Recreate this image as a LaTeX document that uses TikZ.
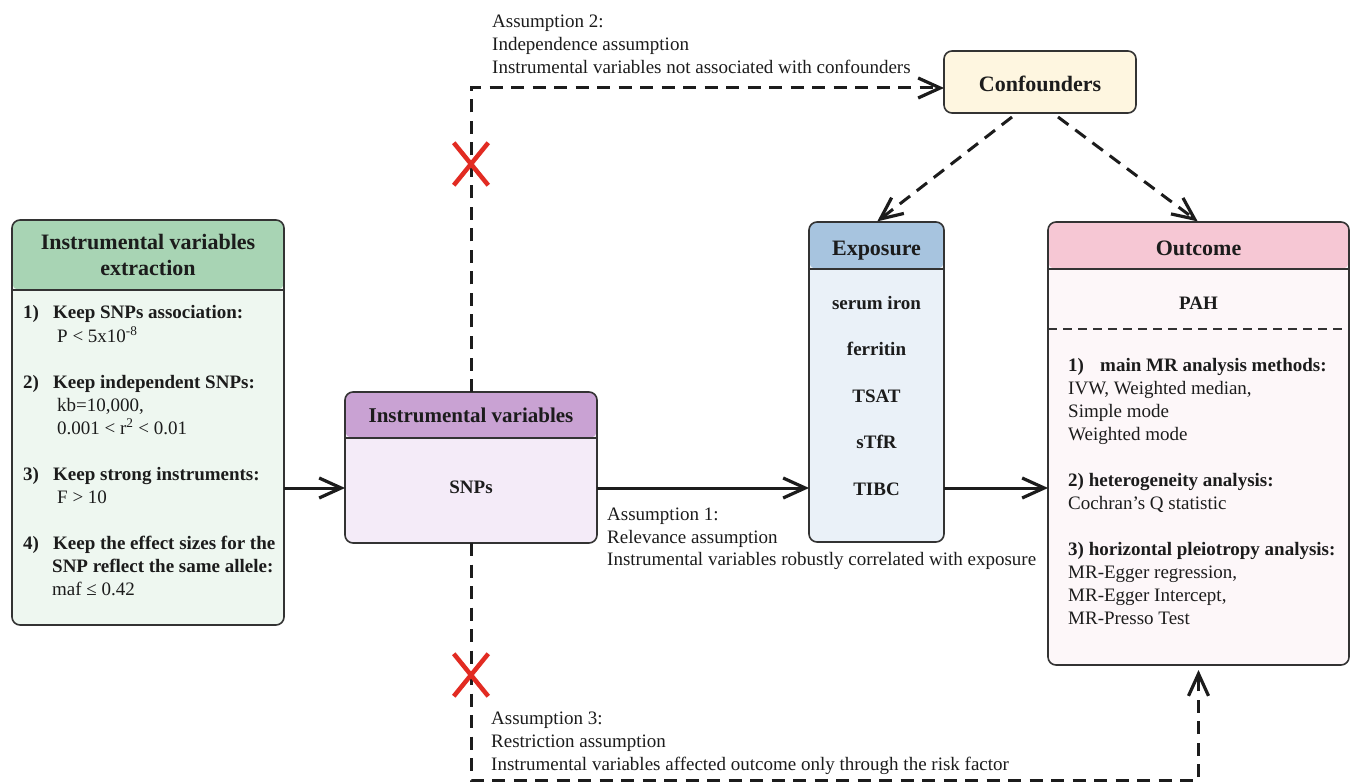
\documentclass[tikz,border=0pt]{standalone}
\usepackage{fontspec}
\setmainfont{Liberation Serif}
\usetikzlibrary{arrows.meta,shapes.misc}
\definecolor{bord}{HTML}{333333}
\definecolor{grH}{HTML}{A8D4B4}
\definecolor{grB}{HTML}{EEF7F0}
\definecolor{puH}{HTML}{C9A2D3}
\definecolor{puB}{HTML}{F4EBF8}
\definecolor{blH}{HTML}{A7C4DF}
\definecolor{blB}{HTML}{EAF1F8}
\definecolor{piH}{HTML}{F6C7D4}
\definecolor{piB}{HTML}{FDF7F9}
\definecolor{coB}{HTML}{FEF6E0}
\definecolor{xred}{HTML}{E22B22}
\definecolor{txt}{HTML}{1C1C1C}
\tikzset{
  box/.style={draw=bord, line width=1.6pt, rounded corners=8pt, inner sep=0pt, outer sep=0pt},
  hbox/.style n args={3}{box, fill=#2, path picture={\fill[#1] (path picture bounding box.north west) rectangle ([yshift=-#3]path picture bounding box.north east);}},
  divider/.style={draw=bord, line width=1.6pt},
  arr/.style={draw=txt, line width=3pt, -{Straight Barb[length=22pt,width=20pt,line width=3.2pt]}},
  dsh/.style={arr, dash pattern=on 13pt off 8.5pt},
  hd/.style={font=\fontsize{22}{26}\selectfont\bfseries, text=txt, align=center, inner sep=0pt},
  bt/.style={font=\fontsize{19}{23}\selectfont\bfseries, text=txt, inner sep=0pt, anchor=base west},
  rt/.style={font=\fontsize{19}{23}\selectfont, text=txt, inner sep=0pt, anchor=base west},
  bc/.style={font=\fontsize{19}{23}\selectfont\bfseries, text=txt, inner sep=0pt, anchor=base},
  xmark/.style={cross out, draw=xred, line width=4.5pt, minimum width=30pt, minimum height=38pt, inner sep=0pt}
}
\begin{document}
\begin{tikzpicture}[x=1pt,y=-1pt]
\useasboundingbox[fill=white] (0,0) rectangle (1351,783);

% boxes
\node[hbox={grH}{grB}{70pt}, minimum width=272pt, minimum height=405pt] (ext) at (148,422.5) {};
\draw[divider] ([yshift=-70pt]ext.north west) -- ([yshift=-70pt]ext.north east);
\node[hbox={puH}{puB}{46pt}, minimum width=252pt, minimum height=151pt] (iv) at (471,467.5) {};
\draw[divider] ([yshift=-46pt]iv.north west) -- ([yshift=-46pt]iv.north east);
\node[hbox={blH}{blB}{47pt}, minimum width=135pt, minimum height=320pt] (exp) at (876.5,382) {};
\draw[divider] ([yshift=-47pt]exp.north west) -- ([yshift=-47pt]exp.north east);
\node[hbox={piH}{piB}{47pt}, minimum width=301pt, minimum height=443pt] (out) at (1198.5,443.5) {};
\draw[divider] ([yshift=-47pt]out.north west) -- ([yshift=-47pt]out.north east);
\draw[draw=bord, line width=1.2pt, dash pattern=on 9pt off 6pt] ([yshift=-107pt]out.north west) -- ([yshift=-107pt]out.north east);
\node[box, fill=coB, minimum width=192pt, minimum height=62pt] (conf) at (1040,82) {};

% headers
\node[hd] (exth) at (148,255) {Instrumental variables\\extraction};
\node[hd, font=\fontsize{21}{24}\selectfont\bfseries, anchor=base] (ivh) at (471,422) {Instrumental variables};
\node[hd, anchor=base] (exph) at (876.5,256) {Exposure};
\node[hd, anchor=base] (outh) at (1198.5,256) {Outcome};
\node[hd, anchor=base] (confh) at (1040,92) {Confounders};

% left box text
\node[bt] (n1) at (23,319) {1)};
\node[bt] (t1) at (53,319) {Keep SNPs association:};
\node[rt] (t1a) at (57,342) {P < 5x10\textsuperscript{-8}};
\node[bt] (n2) at (23,388) {2)};
\node[bt] (t2) at (53,388) {Keep independent SNPs:};
\node[rt] (t2a) at (57,411) {kb=10,000,};
\node[rt] (t2b) at (57,434) {0.001 < r\textsuperscript{2} < 0.01};
\node[bt] (n3) at (23,480) {3)};
\node[bt] (t3) at (53,480) {Keep strong instruments:};
\node[rt] (t3a) at (57,503) {F > 10};
\node[bt] (n4) at (23,549) {4)};
\node[bt] (t4) at (53,549) {Keep the effect sizes for the};
\node[bt] (t4a) at (52,572) {SNP reflect the same allele:};
\node[rt] (t4b) at (52,595) {maf ≤ 0.42};

% IV body
\node[bc] (snps) at (471,493) {SNPs};

% exposure body
\node[bc] (e1) at (876.5,309) {serum iron};
\node[bc] (e2) at (876.5,355.5) {ferritin};
\node[bc] (e3) at (876.5,402) {TSAT};
\node[bc] (e4) at (876.5,448.5) {sTfR};
\node[bc] (e5) at (876.5,495) {TIBC};

% outcome body
\node[bc] (pah) at (1198.5,310) {PAH};
\node[bt] (o1) at (1068,371) {1)\hspace{0.6em} main MR analysis methods:};
\node[rt] (o1a) at (1068,394) {IVW, Weighted median,};
\node[rt] (o1b) at (1068,417) {Simple mode};
\node[rt] (o1c) at (1068,440) {Weighted mode};
\node[bt] (o2) at (1068,486) {2) heterogeneity analysis:};
\node[rt] (o2a) at (1068,509) {Cochran’s Q statistic};
\node[bt] (o3) at (1068,555) {3) horizontal pleiotropy analysis:};
\node[rt] (o3a) at (1068,578) {MR-Egger regression,};
\node[rt] (o3b) at (1068,601) {MR-Egger Intercept,};
\node[rt] (o3c) at (1068,624) {MR-Presso Test};

% assumption labels
\node[rt] (a2a) at (492,28) {Assumption 2:};
\node[rt] (a2b) at (492,51) {Independence assumption};
\node[rt] (a2c) at (492,74) {Instrumental variables not associated with confounders};
\node[rt] (a1a) at (607,520) {Assumption 1:};
\node[rt] (a1b) at (607,543) {Relevance assumption};
\node[rt] (a1c) at (607,565) {Instrumental variables robustly correlated with exposure};
\node[rt] (a3a) at (491,724) {Assumption 3:};
\node[rt] (a3b) at (491,747) {Restriction assumption};
\node[rt] (a3c) at (491,770) {Instrumental variables affected outcome only through the risk factor};

% connectors
\coordinate (mid) at (0,488);
\draw[arr] (ext.east |- mid) -- (iv.west |- mid);
\draw[arr] (iv.east |- mid) -- (exp.west |- mid);
\draw[arr] (exp.east |- mid) -- (out.west |- mid);
\draw[dsh] (iv.north) |- ([yshift=-6pt]conf.west);
\draw[dsh, shorten >=1pt] ([xshift=-28pt,yshift=-4pt]conf.south) -- (exp.north);
\draw[dsh, shorten >=1pt] ([xshift=18pt,yshift=-4pt]conf.south) -- (out.north);
\draw[dsh] (iv.south) -- ++(0,237) -| ([yshift=-5pt]out.south);

% red crosses
\node[xmark] (x1) at (471,164) {};
\node[xmark] (x2) at (471,675) {};
\end{tikzpicture}
\end{document}
